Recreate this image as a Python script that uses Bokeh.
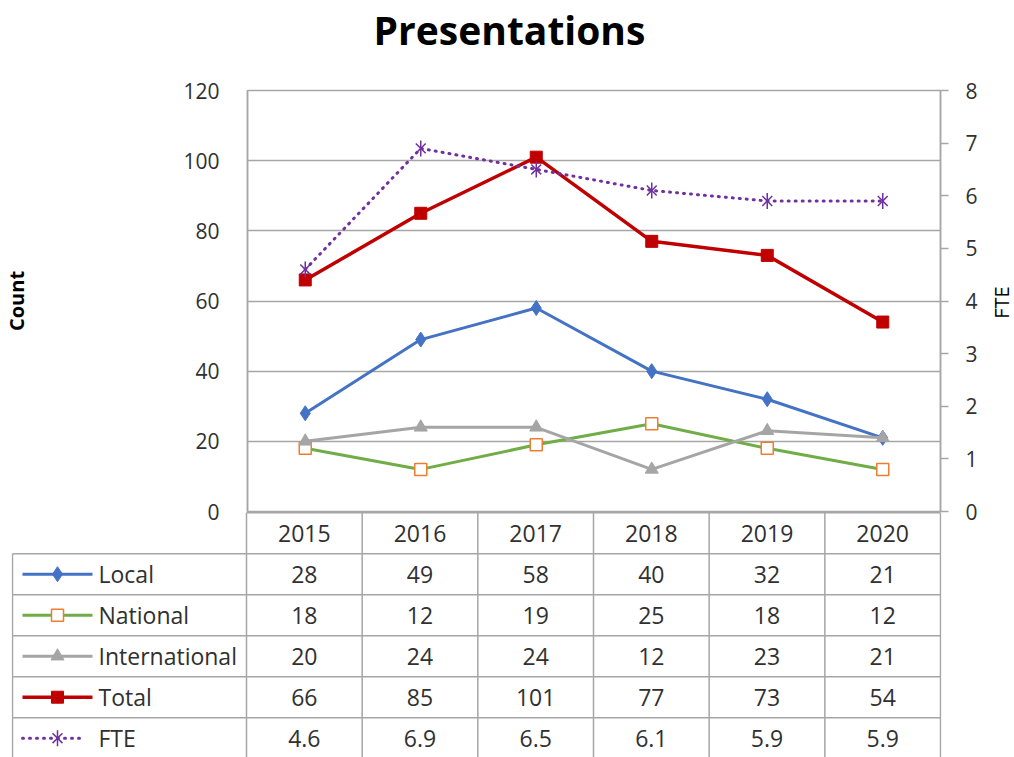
import math
from bokeh.plotting import figure
from bokeh.models import (FactorRange, Range1d, LinearAxis, SingleIntervalTicker,
                          ColumnDataSource)
from bokeh.embed import file_html
from bokeh.resources import INLINE
from bokeh.core.properties import value

# ---------------- data ----------------
years = ["2015", "2016", "2017", "2018", "2019", "2020"]
local = [28, 49, 58, 40, 32, 21]
national = [18, 12, 19, 25, 18, 12]
international = [20, 24, 24, 12, 23, 21]
total = [66, 85, 101, 77, 73, 54]
fte = [4.6, 6.9, 6.5, 6.1, 5.9, 5.9]
series_names = ["Local", "National", "International", "Total", "FTE"]
title_text = "Presentations"
left_label = "Count"
right_label = "FTE"

# ---------------- style ----------------
FONT = "Open Sans"
TXT = "#303030"
GRID = "#a6a6a6"
C_LOCAL = "#4472C4"
C_NAT = "#70AD47"
C_NAT_MK = "#ED7D31"
C_INT = "#A5A5A5"
C_TOT = "#C00000"
C_FTE = "#7030A0"

W = 1014
PAGE_H = 757
FRAME_L = 246        # left border of chart
FRAME_R = 74         # right border of chart
FRAME_T = 90
FRAME_B = 511
FRAME_W = W - FRAME_L - FRAME_R
CW = FRAME_W / len(years)
OVER = 16            # chart canvas overlaps table canvas (for the "0" label)
CH = FRAME_B + OVER  # chart canvas height

# ---------------- chart ----------------
p = figure(width=W, height=CH,
           x_range=FactorRange(*years, range_padding=0),
           y_range=Range1d(0, 120),
           x_axis_location=None,
           output_backend="svg", toolbar_location=None,
           min_border_left=FRAME_L, min_border_right=FRAME_R,
           min_border_top=FRAME_T, min_border_bottom=OVER,
           background_fill_color="white", border_fill_color="white")
p.outline_line_color = GRID
p.outline_line_width = 1.5

ya = p.yaxis[0]
ya.ticker = SingleIntervalTicker(interval=20)
ya.axis_line_color = GRID
ya.axis_line_width = 1.5
ya.major_tick_line_color = None
ya.minor_tick_line_color = None
ya.major_label_standoff = 22
ya.major_label_text_font = FONT
ya.major_label_text_font_size = "21px"
ya.major_label_text_color = TXT
ya.axis_label = left_label
ya.axis_label_text_font = FONT
ya.axis_label_text_font_size = "20px"
ya.axis_label_text_font_style = "bold"
ya.axis_label_text_color = "black"
ya.axis_label_standoff = 150

p.ygrid.ticker = SingleIntervalTicker(interval=20)
p.ygrid.grid_line_color = GRID
p.ygrid.grid_line_width = 1.5
p.xgrid.grid_line_color = None

p.extra_y_ranges = {"fte": Range1d(0, 8)}
ra = LinearAxis(y_range_name="fte", ticker=SingleIntervalTicker(interval=1))
ra.axis_line_color = GRID
ra.axis_line_width = 1.5
ra.major_tick_line_color = GRID
ra.major_tick_line_width = 1.5
ra.major_tick_out = 8
ra.major_tick_in = 0
ra.minor_tick_line_color = None
ra.major_label_standoff = 17
ra.major_label_text_font = FONT
ra.major_label_text_font_size = "21px"
ra.major_label_text_color = TXT
p.add_layout(ra, "right")

src = ColumnDataSource(dict(x=years, local=local, national=national,
                            international=international, total=total, fte=fte))

p.line("x", "local", source=src, color=C_LOCAL, line_width=3)
p.scatter("x", "local", source=src, marker="diamond", size=15,
          fill_color=C_LOCAL, line_color=C_LOCAL)

p.line("x", "national", source=src, color=C_NAT, line_width=3)
p.scatter("x", "national", source=src, marker="square", size=12,
          fill_color="white", line_color=C_NAT_MK, line_width=1.5)

p.line("x", "international", source=src, color=C_INT, line_width=3)
p.scatter("x", "international", source=src, marker="triangle", size=13,
          fill_color=C_INT, line_color=C_INT)

p.line("x", "total", source=src, color=C_TOT, line_width=3.5)
p.scatter("x", "total", source=src, marker="square", size=12,
          fill_color=C_TOT, line_color=C_TOT)

p.line("x", "fte", source=src, y_range_name="fte", color=C_FTE, line_width=3,
       line_dash="1 6", line_cap="round")
p.scatter("x", "fte", source=src, y_range_name="fte", marker="x", size=14,
          line_color=C_FTE, line_width=1.5)
p.scatter("x", "fte", source=src, y_range_name="fte", marker="dash", size=16,
          angle=math.pi / 2, line_color=C_FTE, line_width=1.5)

# ---------------- data table ----------------
ROW_H = 41
TH = PAGE_H - FRAME_B
TL = 234            # legend column width in px
x0 = -TL / CW
x1 = 6 + 1.0 / CW
t = figure(width=W, height=TH,
           x_range=Range1d(x0 - 1.0 / CW, x1),
           y_range=Range1d((TH - 1.2) / ROW_H, -1.2 / ROW_H),
           x_axis_location=None, y_axis_location=None,
           output_backend="svg", toolbar_location=None,
           min_border_left=FRAME_L - TL - 1, min_border_right=FRAME_R - 1,
           min_border_top=0, min_border_bottom=0,
           background_fill_alpha=0, border_fill_alpha=0)
t.styles = {"margin-top": f"-{OVER}px"}
t.outline_line_color = None
t.xgrid.grid_line_color = None
t.ygrid.grid_line_color = None

n = len(years)
nrows = len(series_names) + 1
# horizontal rules
hx0 = [0.0] + [x0] * nrows
hx1 = [float(n)] * (nrows + 1)
hy = list(range(nrows + 1))
t.segment(x0=hx0, y0=hy, x1=hx1, y1=hy, line_color=GRID, line_width=1.5)
# vertical rules
vx = list(range(n + 1)) + [x0]
vy0 = [0.0] * (n + 1) + [1.0]
vy1 = [float(nrows)] * (n + 2)
t.segment(x0=vx, y0=vy0, x1=vx, y1=vy1, line_color=GRID, line_width=1.5)

# header
t.text(x=[i + 0.5 for i in range(n)], y=[0.5] * n, text=years,
       text_font=value(FONT), text_font_size="23px", text_color=TXT,
       text_align="center", text_baseline="middle")

values = [local, national, international, total, fte]
fmt = [lambda v: f"{v:d}"] * 4 + [lambda v: f"{v:.1f}"]
for r, (vals, f) in enumerate(zip(values, fmt)):
    t.text(x=[i + 0.5 for i in range(n)], y=[r + 1.5] * n,
           text=[f(v) for v in vals],
           text_font=value(FONT), text_font_size="23px", text_color=TXT,
           text_align="center", text_baseline="middle")

# legend keys
lx0 = (22 - FRAME_L) / CW
lx1 = (92 - FRAME_L) / CW
lxm = (57 - FRAME_L) / CW
ltx = (98 - FRAME_L) / CW
ly = [r + 1.5 for r in range(len(series_names))]
t.text(x=[ltx] * len(series_names), y=ly, text=series_names,
       text_font=value(FONT), text_font_size="23px", text_color=TXT,
       text_align="left", text_baseline="middle")

key_cols = [C_LOCAL, C_NAT, C_INT, C_TOT]
for r, c in enumerate(key_cols):
    t.segment(x0=[lx0], y0=[ly[r]], x1=[lx1], y1=[ly[r]], line_color=c,
              line_width=3.5 if r == 3 else 3)
t.scatter([lxm], [ly[0]], marker="diamond", size=15, color=C_LOCAL)
t.scatter([lxm], [ly[1]], marker="square", size=12, fill_color="white",
          line_color=C_NAT_MK, line_width=1.5)
t.scatter([lxm], [ly[2]], marker="triangle", size=13, color=C_INT)
t.scatter([lxm], [ly[3]], marker="square", size=12, color=C_TOT)
t.segment(x0=[lx0], y0=[ly[4]], x1=[lx1 - 8 / CW], y1=[ly[4]], line_color=C_FTE,
          line_width=3, line_dash="1 6", line_cap="round")
t.scatter([lxm], [ly[4]], marker="x", size=14, line_color=C_FTE, line_width=1.5)
t.scatter([lxm], [ly[4]], marker="dash", size=16, angle=math.pi / 2,
          line_color=C_FTE, line_width=1.5)

# ---------------- overlay: chart title and right axis title ----------------
o = figure(width=W, height=PAGE_H,
           x_range=Range1d(0, W), y_range=Range1d(0, PAGE_H),
           x_axis_location=None, y_axis_location=None,
           output_backend="svg", toolbar_location=None,
           min_border=0, background_fill_alpha=0, border_fill_alpha=0)
o.styles = {"position": "absolute", "left": "0px", "top": "0px",
            "pointer-events": "none"}
o.outline_line_color = None
o.xgrid.grid_line_color = None
o.ygrid.grid_line_color = None
o.text(x=[509], y=[PAGE_H - 29], text=[title_text], text_font=value(FONT),
       text_font_size="39px", text_font_style="bold", text_color="black",
       text_align="center", text_baseline="middle")
o.text(x=[1001], y=[PAGE_H - 302], text=[right_label], angle=math.pi / 2,
       text_font=value(FONT), text_font_size="20px", text_color="black",
       text_align="center", text_baseline="middle")

open("out.html", "w").write(file_html([p, t, o], INLINE))
